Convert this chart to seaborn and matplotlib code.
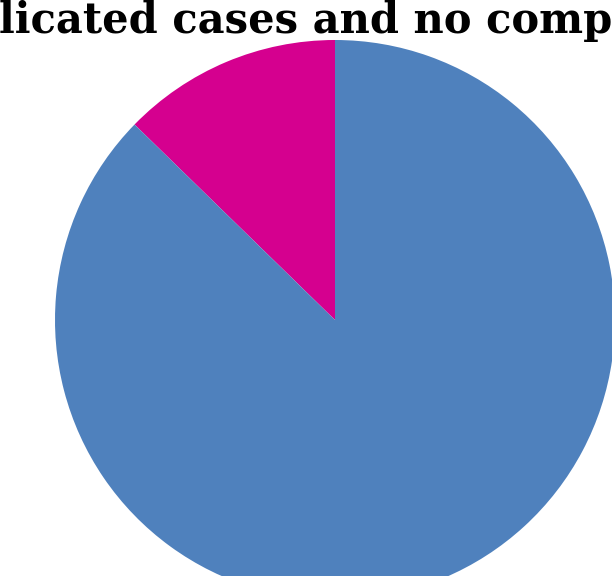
import matplotlib
matplotlib.use("Agg")
import matplotlib.pyplot as plt
import seaborn as sns

labels = ["Complications", "No complications"]
shares = [12.7, 87.3]
colors = ["#D5008F", "#4F81BD"]
title = "licated cases and no comp"

sns.set_theme(style="white")
plt.rcParams['font.family'] = ['DejaVu Serif', 'DejaVu Sans']

fig = plt.figure(figsize=(6.12, 5.76), dpi=100)
ax = fig.add_axes([55 / 612, -24 / 576, 560 / 612, 560 / 576])
ax.pie(shares, colors=sns.color_palette(colors), startangle=90, counterclock=True,
       radius=1, wedgeprops=dict(linewidth=0), frame=False)
ax.set_xlim(-1, 1)
ax.set_ylim(-1, 1)
ax.set_aspect('equal')
ax.axis('off')

fig.text(0.5, 1.0, title, ha='center', va='top', fontsize=30,
         fontweight='bold', color='black')

fig.savefig("out.png", dpi=100)
